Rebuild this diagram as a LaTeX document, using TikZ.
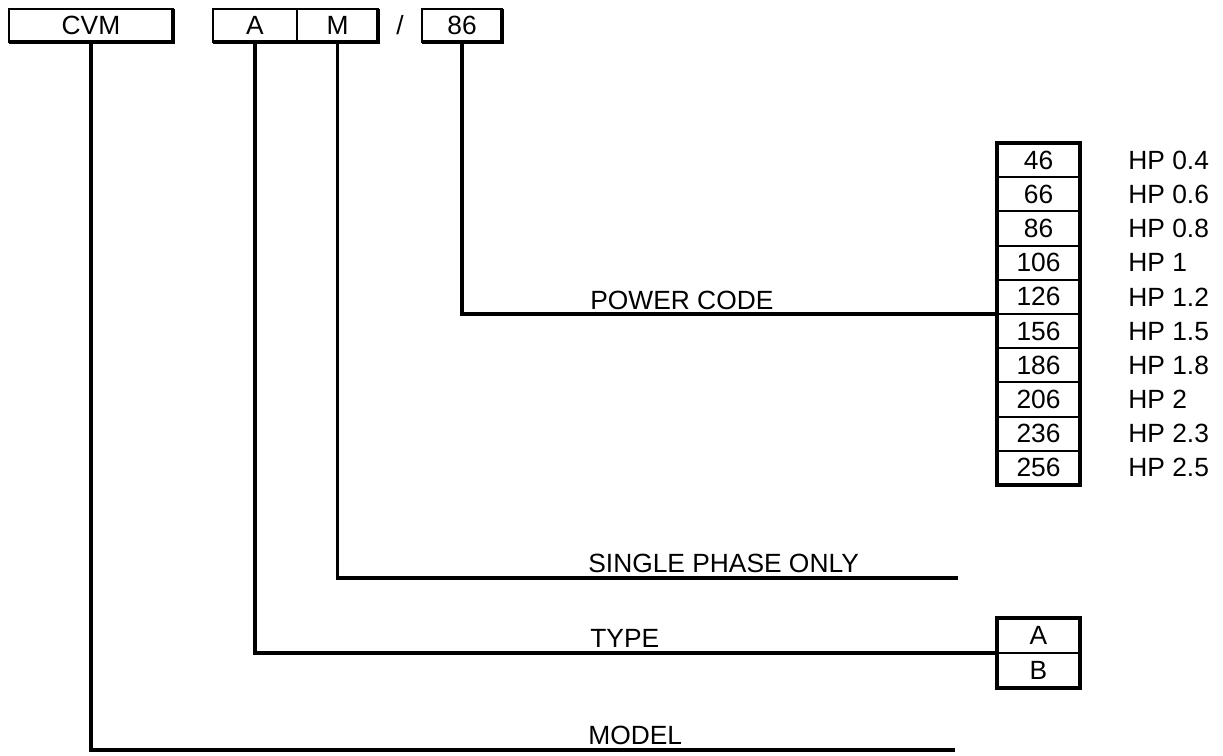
\documentclass[tikz,border=0pt]{standalone}
\usepackage{fontspec}
\setmainfont{Liberation Sans}
\begin{document}
\begin{tikzpicture}[x=0.02cm,y=-0.02cm,
    every node/.style={font=\fontsize{15}{18}\selectfont},
    codebox/.style={draw,line width=1.2pt,minimum width=1.66cm,minimum height=0.684cm,inner sep=0pt,outer sep=0pt},
    topbox/.style={draw,line width=1.2pt,minimum height=0.66cm,inner sep=0pt,outer sep=0pt},
    lbl/.style={anchor=base west,inner sep=0pt},
    lead/.style={line width=1.8pt},
    frame/.style={line width=2.2pt}]
    \useasboundingbox (0,0) rectangle (1223,755);

    % Code boxes
    \node[topbox,minimum width=3.28cm] (cvm) at (91,25.5) {CVM};
    \node[topbox,minimum width=1.68cm] (a) at (255,25.5) {A};
    \node[topbox,minimum width=1.62cm] (m) at (337.5,25.5) {M};
    \node (slash) at (400,25.5) {/};
    \node[topbox,minimum width=1.6cm] (c86) at (462,25.5) {86};
    \foreach \b in {cvm,m,c86}
        \draw[line width=2pt] (\b.north east) -- (\b.south east) -- (\b.south west);
    \draw[line width=2pt] (a.south east) -- (a.south west);

    % Power code table
    \foreach \c/\h [count=\i] in {46/0.4,66/0.6,86/0.8,106/1,126/1.2,156/1.5,186/1.8,206/2,236/2.3,256/2.5}
    {
        \node[codebox] (p\i) at (1038.5,{143+34.2*(\i-0.5)}) {\c};
        \node[anchor=west,inner sep=0pt] (hp\i) at (1128,{143+34.2*(\i-0.5)}) {HP \h};
    }
    \draw[frame] (p1.north west) rectangle (p10.south east);

    % Type table
    \node[codebox,minimum height=0.7cm] (ta) at (1038.5,635.5) {A};
    \node[codebox,minimum height=0.7cm] (tb) at (1038.5,670.5) {B};
    \draw[frame] (ta.north west) rectangle (tb.south east);

    % Free line ends
    \coordinate (phaseend) at (958,578);
    \coordinate (modelend) at (955,750);

    % Leads
    \draw[lead] (c86.south) |- (p5.south west);
    \draw[lead] (m.south) |- (phaseend);
    \draw[lead] (a.south) |- (ta.south west);
    \draw[lead] (cvm.south) |- (modelend);

    % Labels
    \node[lbl] (lpower) at (590,309) {POWER CODE};
    \node[lbl] (lphase) at (588,572) {SINGLE PHASE ONLY};
    \node[lbl] (ltype) at (590,647) {TYPE};
    \node[lbl] (lmodel) at (588,744) {MODEL};
\end{tikzpicture}
\end{document}
